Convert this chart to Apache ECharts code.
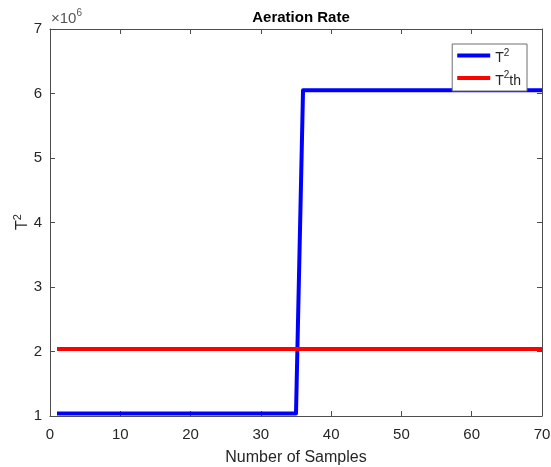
<!DOCTYPE html>
<html>
<head>
<meta charset="utf-8">
<script src="https://cdn.jsdelivr.net/npm/echarts@6/dist/echarts.min.js"></script>
<style>
  html, body { margin: 0; padding: 0; background: #fff; }
  #chart { width: 551px; height: 467px; }
</style>
</head>
<body>
<div id="chart"></div>
<script>
// Sample indices and T² statistic values
const samples = Array.from({ length: 70 }, (_, i) => i + 1);
const t2Low = 1.04e6;
const t2High = 6.05e6;
const t2Values = [
  t2Low, t2Low, t2Low, t2Low, t2Low, t2Low, t2Low, t2Low, t2Low, t2Low,
  t2Low, t2Low, t2Low, t2Low, t2Low, t2Low, t2Low, t2Low, t2Low, t2Low,
  t2Low, t2Low, t2Low, t2Low, t2Low, t2Low, t2Low, t2Low, t2Low, t2Low,
  t2Low, t2Low, t2Low, t2Low, t2Low, t2High, t2High, t2High, t2High, t2High,
  t2High, t2High, t2High, t2High, t2High, t2High, t2High, t2High, t2High, t2High,
  t2High, t2High, t2High, t2High, t2High, t2High, t2High, t2High, t2High, t2High,
  t2High, t2High, t2High, t2High, t2High, t2High, t2High, t2High, t2High, t2High
];
// Control limit
const t2Threshold = 2.04e6;
const thresholdValues = samples.map(() => t2Threshold);

const xTicks = [0, 10, 20, 30, 40, 50, 60, 70];
const yTicks = [1, 2, 3, 4, 5, 6, 7];

const axisColor = '#4d4d4d';
const labelColor = '#262626';
const font = 'Liberation Sans, Arial, Helvetica, sans-serif';

const chart = echarts.init(document.getElementById('chart'), null, { renderer: 'canvas' });

const baseX = {
  type: 'value', min: xTicks[0], max: xTicks[xTicks.length - 1], interval: 10,
  axisLine: { onZero: false, lineStyle: { color: axisColor, width: 1 } },
  axisTick: { inside: true, length: 5, lineStyle: { color: axisColor } },
  splitLine: { show: false }
};
const baseY = {
  type: 'value', min: yTicks[0] * 1e6, max: yTicks[yTicks.length - 1] * 1e6, interval: 1e6,
  axisLine: { onZero: false, lineStyle: { color: axisColor, width: 1 } },
  axisTick: { inside: true, length: 5, lineStyle: { color: axisColor } },
  splitLine: { show: false }
};

chart.setOption({
  animation: false,
  backgroundColor: '#fff',
  title: {
    text: 'Aeration Rate',
    left: 296, top: 5, textAlign: 'center',
    textStyle: { fontFamily: font, fontSize: 15, fontWeight: 'bold', color: '#000' }
  },
  grid: { left: 50, right: 9, top: 29, bottom: 51, containLabel: false, outerBoundsMode: 'none' },
  legend: {
    orient: 'vertical',
    right: 24, top: 44,
    padding: [4, 6, 3, 5],
    itemGap: 5,
    itemWidth: 33, itemHeight: 4,
    icon: 'rect',
    backgroundColor: '#fff',
    borderColor: '#6e6e6e', borderWidth: 1, borderRadius: 0,
    data: ['T2', 'T2th'],
    formatter: name => name === 'T2' ? '{b|T}{s|2}' : '{b|T}{s|2}{b|th}',
    textStyle: {
      fontFamily: font, color: labelColor,
      rich: {
        b: { fontFamily: font, fontSize: 14, color: labelColor, padding: [6, 0, 0, 0] },
        s: { fontFamily: font, fontSize: 10, color: labelColor, padding: [0, 0, 5, 0] }
      }
    }
  },
  xAxis: [
    Object.assign({}, baseX, {
      position: 'bottom',
      name: 'Number of Samples', nameLocation: 'middle', nameGap: 34,
      nameTextStyle: { fontFamily: font, fontSize: 16, color: labelColor },
      axisLabel: { fontFamily: font, fontSize: 15, color: labelColor, margin: 11 }
    }),
    Object.assign({}, baseX, { position: 'top', axisLabel: { show: false } })
  ],
  yAxis: [
    Object.assign({}, baseY, {
      position: 'left',
      axisLabel: {
        fontFamily: font, fontSize: 15, color: labelColor, margin: 8,
        formatter: v => String(Math.round(v / 1e6))
      }
    }),
    Object.assign({}, baseY, { position: 'right', axisLabel: { show: false } })
  ],
  graphic: [
    {
      // exponent marker for the y axis
      type: 'text', left: 51, top: 8,
      style: {
        text: '{m|×10}{e|6}',
        rich: {
          m: { fontFamily: font, fontSize: 15, fill: '#555', padding: [6, 0, 0, 0] },
          e: { fontFamily: font, fontSize: 10, fill: '#555', padding: [0, 0, 6, 0] }
        }
      }
    },
    {
      // y axis title, rotated
      type: 'text', x: 20, y: 222, rotation: Math.PI / 2,
      style: {
        text: '{b|T}{s|2}',
        align: 'center', verticalAlign: 'middle',
        rich: {
          b: { fontFamily: font, fontSize: 16, fill: labelColor, padding: [6, 0, 0, 0] },
          s: { fontFamily: font, fontSize: 11, fill: labelColor, padding: [0, 0, 5, 0] }
        }
      }
    }
  ],
  series: [
    {
      name: 'T2', type: 'line', xAxisIndex: 0, yAxisIndex: 0,
      data: samples.map((s, i) => [s, t2Values[i]]),
      showSymbol: false, symbol: 'none',
      lineStyle: { color: '#0000ff', width: 4, join: 'round' },
      itemStyle: { color: '#0000ff' }, z: 2
    },
    {
      name: 'T2th', type: 'line', xAxisIndex: 0, yAxisIndex: 0,
      data: samples.map((s, i) => [s, thresholdValues[i]]),
      showSymbol: false, symbol: 'none',
      lineStyle: { color: '#ff0000', width: 4 },
      itemStyle: { color: '#ff0000' }, z: 3
    }
  ]
});
</script>
</body>
</html>
